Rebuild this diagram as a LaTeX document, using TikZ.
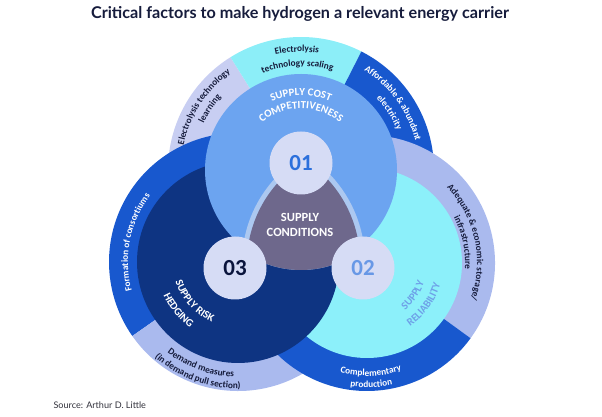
\documentclass[tikz,border=0pt]{standalone}
\usepackage{fontspec}
\setmainfont{Carlito}
\newfontfamily\titlefont{Lato}
\usepackage{tikz}
\usetikzlibrary{decorations.text}
\definecolor{ringpale}{RGB}{200,206,242}
\definecolor{ringcyan}{RGB}{140,238,248}
\definecolor{ringblue}{RGB}{24,88,206}
\definecolor{ringlav}{RGB}{170,186,238}
\definecolor{disclight}{RGB}{108,164,240}
\definecolor{disccyan}{RGB}{140,240,250}
\definecolor{discnavy}{RGB}{14,52,130}
\definecolor{condcol}{RGB}{110,104,140}
\definecolor{rimcol}{RGB}{172,200,240}
\definecolor{numfill}{RGB}{214,220,245}
\definecolor{numone}{RGB}{44,112,220}
\definecolor{numtwo}{RGB}{104,152,230}
\definecolor{numthree}{RGB}{10,20,60}
\definecolor{relblue}{RGB}{110,160,232}
\definecolor{ink}{RGB}{22,28,60}
\definecolor{srcink}{RGB}{50,50,60}
\newcommand{\ringfont}{\fontsize{9.3}{10}\selectfont\bfseries}
\newcommand{\discfont}{\fontsize{10.8}{12}\selectfont\bfseries}
% curved labels: centre, mid angle, radius, colour, font, text
\newcommand{\cwtext}[6]{\path[shift={(#1)},decorate,decoration={text along path,text align=center,
  text={|\color{#4}#5|#6}}] ({#2+70}:#3) arc[start angle={#2+70},end angle={#2-70},radius=#3];}
\newcommand{\ccwtext}[6]{\path[shift={(#1)},decorate,decoration={text along path,text align=center,
  text={|\color{#4}#5|#6}}] ({#2-70}:#3) arc[start angle={#2-70},end angle={#2+70},radius=#3];}

\begin{document}
\begin{tikzpicture}[x=1pt,y=1pt,
  numdisc/.style={circle,fill=numfill,minimum size=63pt,inner sep=0pt,font=\fontsize{23}{23}\selectfont\bfseries}]
\useasboundingbox (0,0) rectangle (602,417);
\coordinate (c1) at (301,247);
\coordinate (c2) at (367,154);
\coordinate (c3) at (238,155);
% outer rings
\fill[ringpale] (c1) -- ++(122:133) arc[start angle=122,end angle=250,radius=133] -- cycle;
\fill[ringcyan] (c1) -- ++(63:133) arc[start angle=63,end angle=122,radius=133] -- cycle;
\fill[ringblue] (c1) -- ++(-110:133) arc[start angle=-110,end angle=63,radius=133] -- cycle;
\fill[ringblue] (c3) -- ++(30:129) arc[start angle=30,end angle=215,radius=129] -- cycle;
\fill[ringlav] (c3) -- ++(215:129) arc[start angle=215,end angle=390,radius=129] -- cycle;
\fill[ringlav] (c2) -- ++(-36:128) arc[start angle=-36,end angle=150,radius=128] -- cycle;
\fill[ringblue] (c2) -- ++(150:128) arc[start angle=150,end angle=324,radius=128] -- cycle;
% inner discs
\fill[disccyan] (c2) circle (95);
\fill[discnavy] (c3) circle (101);
\fill[disclight] (c1) circle (96);
% supply conditions
\begin{scope}
\clip (c1) circle (100); \clip (c2) circle (125); \clip (c3) circle (127);
\fill[rimcol] (300,190) circle (90);
\end{scope}
\begin{scope}
\clip (c1) circle (100); \clip (c2) circle (120); \clip (c3) circle (122);
\fill[condcol] (300,190) circle (90);
\end{scope}
\node[numdisc,text=numone] (n1) at (301,254) {01};
\node[numdisc,text=numtwo] (n2) at (363,149) {02};
\node[numdisc,text=numthree] (n3) at (235,149) {03};
\node[align=center,text=white,font=\fontsize{12.5}{15}\selectfont\bfseries] (cond) at (300,192) {SUPPLY\\CONDITIONS};
% ring labels
\cwtext{c1}{147}{120}{ink}{\ringfont}{Electrolysis technology}
\cwtext{c1}{146}{108}{ink}{\ringfont}{learning}
\cwtext{c1}{92}{118}{ink}{\ringfont}{Electrolysis}
\cwtext{c1}{92}{104}{ink}{\ringfont}{technology scaling}
\cwtext{c1}{36}{118}{white}{\ringfont}{Affordable {\&} abundant}
\cwtext{c1}{33}{104}{white}{\ringfont}{electricity}
\cwtext{c2}{12}{110}{ink}{\ringfont}{Adequate {\&} economic storage/}
\cwtext{c2}{12}{98}{ink}{\ringfont}{infrastructure}
\ccwtext{c2}{272}{113}{white}{\ringfont}{Complementary}
\ccwtext{c2}{272}{124.5}{white}{\ringfont}{production}
\cwtext{c3}{169}{110}{white}{\ringfont}{Formation of consortiums}
\ccwtext{c3}{250}{115}{ink}{\ringfont}{Demand measures}
\ccwtext{c3}{250}{126.5}{ink}{\ringfont}{(in demand pull section)}
% disc labels
\cwtext{c1}{90}{74.5}{white}{\discfont}{SUPPLY COST}
\cwtext{c1}{90}{61.5}{white}{\discfont}{COMPETITIVENESS}
\ccwtext{c3}{222}{65.5}{white}{\discfont}{SUPPLY RISK}
\ccwtext{c3}{219}{81.5}{white}{\discfont}{HEDGING}
\ccwtext{c2}{-35}{60.5}{relblue}{\discfont}{SUPPLY}
\ccwtext{c2}{-36}{76.5}{relblue}{\discfont}{RELIABILITY}
% title and source
\node[font={\titlefont\fontsize{16.2}{19}\selectfont\bfseries},text=ink] (title) at (300,403) {Critical factors to make hydrogen a relevant energy carrier};
\node[anchor=west,font={\titlefont\fontsize{9.1}{11}\selectfont},text=srcink] (src) at (50,12) {Source: Arthur D. Little};
\end{tikzpicture}
\end{document}
